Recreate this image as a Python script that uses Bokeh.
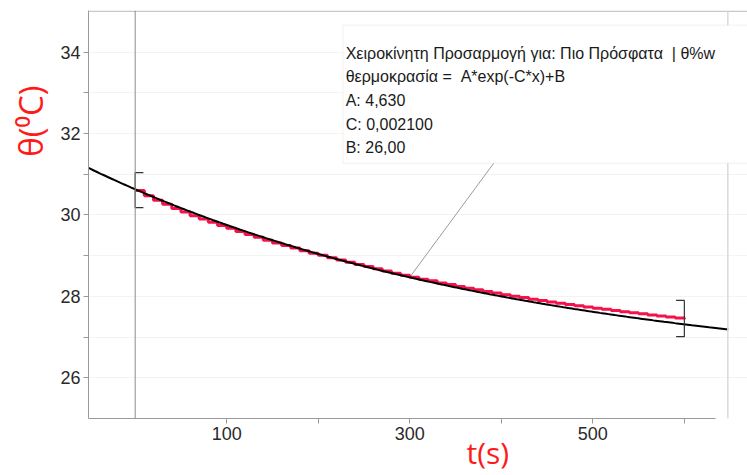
import numpy as np
from bokeh.plotting import figure
from bokeh.models import Range1d, FixedTicker, Label, Span, BoxAnnotation, Title
from bokeh.core.properties import value
from bokeh.embed import file_html
from bokeh.resources import INLINE

# measured data (time in s, temperature in °C)
time_s = [0, 10, 20, 30, 40, 50, 60, 70, 80, 90, 100, 110, 120, 130, 140, 150,
          160, 170, 180, 190, 200, 210, 220, 230, 240, 250, 260, 270, 280, 290,
          300, 310, 320, 330, 340, 350, 360, 370, 380, 390, 400, 410, 420, 430,
          440, 450, 460, 470, 480, 490, 500, 510, 520, 530, 540, 550, 560, 570,
          580, 590, 600]
temperature = [30.60, 30.47, 30.36, 30.26, 30.16, 30.07, 29.98, 29.90, 29.82, 29.74,
               29.67, 29.59, 29.52, 29.45, 29.38, 29.31, 29.25, 29.19, 29.12, 29.06,
               29.01, 28.95, 28.89, 28.84, 28.78, 28.73, 28.68, 28.62, 28.57, 28.52,
               28.47, 28.42, 28.38, 28.33, 28.29, 28.24, 28.20, 28.16, 28.12, 28.08,
               28.04, 28.00, 27.97, 27.93, 27.90, 27.86, 27.83, 27.80, 27.77, 27.74,
               27.71, 27.68, 27.65, 27.62, 27.60, 27.57, 27.54, 27.52, 27.49, 27.47,
               27.44]

# manual fit parameters shown in the box
fit_A = 4.630
fit_C = 0.002100
fit_B = 26.00

x_ticks = [100, 200, 300, 400, 500, 600]
x_tick_labels = {100: "100", 200: "", 300: "300", 400: "", 500: "500", 600: ""}
y_ticks = [26, 27, 28, 29, 30, 31, 32, 33, 34]
y_tick_labels = {26: "26", 27: "", 28: "28", 29: "", 30: "30", 31: "", 32: "32", 33: "", 34: "34"}

box_lines = [
    "Χειροκίνητη Προσαρμογή για: Πιο Πρόσφατα\u00a0\u00a0| θ%w",
    "θερμοκρασία =\u00a0\u00a0A*exp(-C*x)+B",
    "A: 4,630",
    "C: 0,002100",
    "B: 26,00",
]

p = figure(width=747, height=475, output_backend="svg", toolbar_location=None,
           x_range=Range1d(-51, 669), y_range=Range1d(25, 35.02),
           min_border_left=88, min_border_right=0, min_border_top=10, min_border_bottom=57)
p.outline_line_color = None
p.background_fill_color = "white"

for ax in (p.xaxis[0], p.yaxis[0]):
    ax.axis_line_color = "#9a9a9a"
    ax.major_tick_line_color = "#9a9a9a"
    ax.minor_tick_line_color = None
    ax.major_tick_in = 0
    ax.major_tick_out = 5
    ax.major_label_standoff = 3
    ax.major_label_text_font = "Liberation Sans"
    ax.major_label_text_font_size = "18px"
    ax.major_label_text_color = "#2a2a2a"
p.xaxis.ticker = FixedTicker(ticks=x_ticks)
p.xaxis.major_label_overrides = x_tick_labels
p.xaxis.bounds = (-51, 634)
p.yaxis.ticker = FixedTicker(ticks=y_ticks)
p.yaxis.major_label_overrides = y_tick_labels
p.xgrid.grid_line_color = None
p.ygrid.grid_line_color = "#f3f3f3"

# axis titles (as side titles so that they can be offset like the reference)
p.add_layout(Title(text="θ(⁰C)", align="right", offset=75, standoff=9,
                   text_font="Open Sans", text_font_size="33px",
                   text_font_style="normal", text_color="#ff1a1a"), "left")
p.add_layout(Title(text="t(s)", align="left", offset=378, standoff=-26,
                   text_line_height=1.0,
                   text_font="Open Sans", text_font_size="30px",
                   text_font_style="normal", text_color="#ff1a1a"), "below")

# frame borders
p.add_layout(Span(location=35.0, dimension="width", line_color="#c8c8c8", line_width=1.5))
p.add_layout(Span(location=647.5, dimension="height", line_color="#dadada", line_width=1.5))
p.add_layout(Span(location=0, dimension="height", line_color="#8c8c8c", line_width=1))

# leader line
p.line(x=[300, 396], y=[28.47, 31.4], line_color="#9a9a9a", line_width=1)

# data (stepped)
p.step(x=time_s, y=temperature, mode="after", line_color="#f5124c", line_width=3)

# fit curve
xf = np.linspace(-51, 648, 300)
yf = fit_A * np.exp(-fit_C * xf) + fit_B
p.line(x=xf, y=yf, line_color="black", line_width=2)

# range brackets
p.multi_line(xs=[[9, 0, 0, 9], [591, 600, 600, 591]],
             ys=[[31.04, 31.04, 30.18, 30.18], [27.90, 27.90, 27.01, 27.01]],
             line_color="#333333", line_width=1.2)

# annotation box
p.add_layout(BoxAnnotation(left=227, right=720, bottom=31.27, top=34.66,
                           fill_color="white", fill_alpha=1.0,
                           line_color="#d0d0d0", line_width=1))
p.quad(left=[228], right=[252], bottom=[34.34], top=[34.58],
       fill_color="#8a8a8a", line_color="#6a6a6a")
box_y = [33.97, 33.40, 32.81, 32.22, 31.66]
for txt, yy in zip(box_lines, box_y):
    p.add_layout(Label(x=230, y=yy, text=txt, text_font="Liberation Sans",
                       text_font_size="16px", text_color="#1a1a1a",
                       text_baseline="middle", text_align="left"))

open("out.html", "w").write(file_html(p, INLINE))
